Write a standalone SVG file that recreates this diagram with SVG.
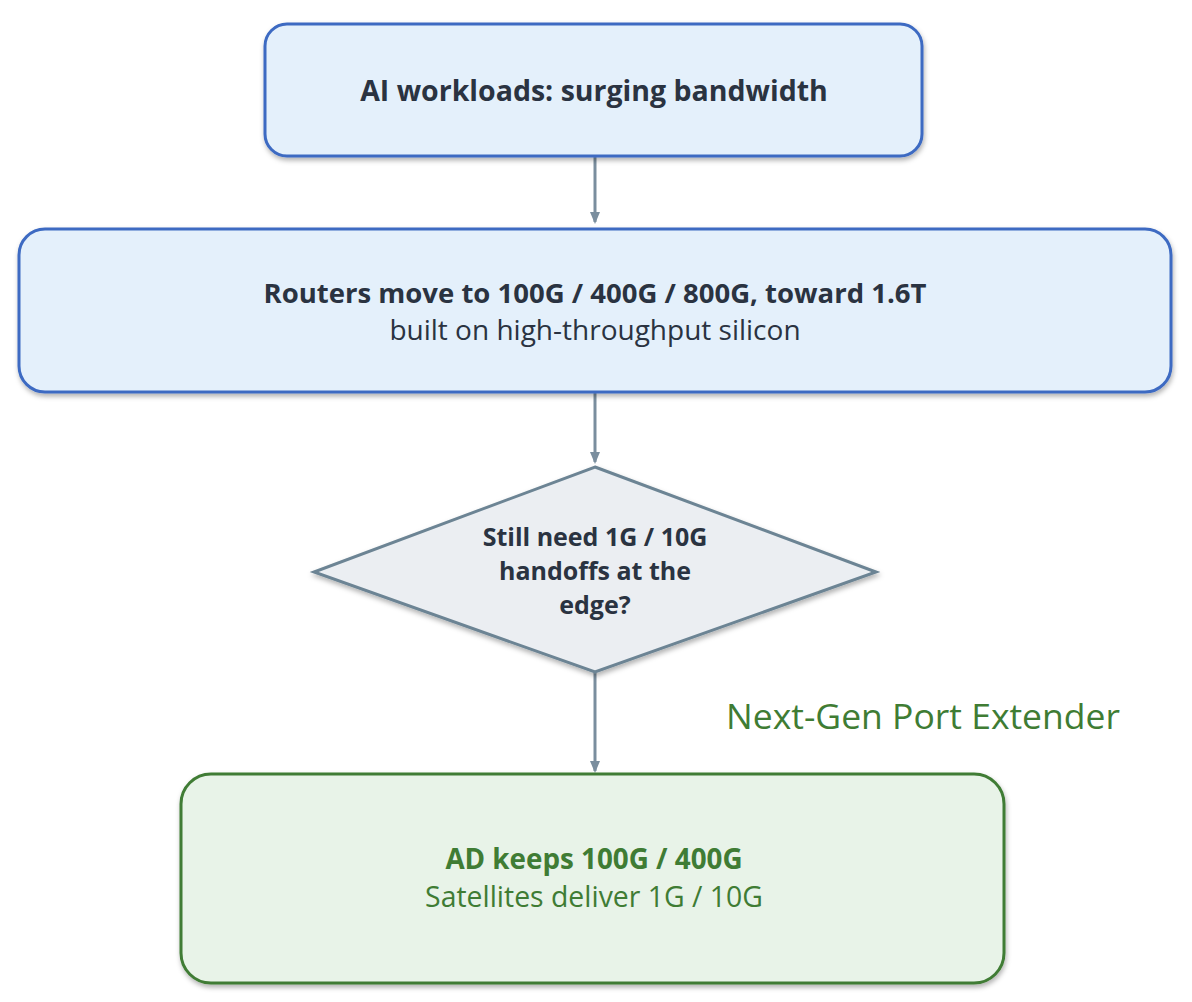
<svg xmlns="http://www.w3.org/2000/svg" width="1192" height="1002" viewBox="0 0 1192 1002">
<defs>
<filter id="sh" x="-5%" y="-10%" width="110%" height="125%">
<feDropShadow dx="1" dy="3" stdDeviation="2.5" flood-color="#000" flood-opacity="0.3"/>
</filter>
<marker id="ah" markerWidth="12" markerHeight="10" refX="10" refY="5" orient="auto" markerUnits="userSpaceOnUse">
<path d="M0,0 L12,5 L0,10 z" fill="#7a8e9e"/>
</marker>
</defs>
<style>
.blue{fill:#e4f0fb;stroke:#3c6ac2;stroke-width:3}
.dia{fill:#ebeef2;stroke:#6c8494;stroke-width:3}
.green{fill:#e8f3e8;stroke:#3f7c34;stroke-width:3}
.t{font-family:"Open Sans",Lato,"Liberation Sans",sans-serif;text-anchor:middle}
.b{font-weight:bold}
.dark{fill:#2a3341}
.gt{fill:#3f7c34}
.conn{stroke:#7a8e9e;stroke-width:3;fill:none}
</style>
<rect width="1192" height="1002" fill="#ffffff"/>
<g id="connectors">
<line class="conn" x1="595" y1="157" x2="595" y2="222" marker-end="url(#ah)"/>
<line class="conn" x1="595" y1="393" x2="595" y2="462" marker-end="url(#ah)"/>
<line class="conn" x1="595" y1="673" x2="595" y2="771" marker-end="url(#ah)"/>
</g>
<g id="n1">
<rect class="blue" x="265" y="24" width="657" height="132" rx="22" filter="url(#sh)"/>
<text class="t b dark" x="594" y="101" font-size="28.5">AI workloads: surging bandwidth</text>
</g>
<g id="n2">
<rect class="blue" x="19" y="229" width="1152" height="163" rx="26" filter="url(#sh)"/>
<text class="t b dark" x="595" y="303" font-size="27.5">Routers move to 100G / 400G / 800G, toward 1.6T</text>
<text class="t dark" x="595" y="340" font-size="28">built on high-throughput silicon</text>
</g>
<g id="n3">
<polygon class="dia" points="595,467 876,572 595,672 314,572" filter="url(#sh)"/>
<text class="t b dark" x="595" y="546" font-size="25">Still need 1G / 10G</text>
<text class="t b dark" x="595" y="580" font-size="25">handoffs at the</text>
<text class="t b dark" x="595" y="614" font-size="25">edge?</text>
</g>
<g id="label">
<text class="t gt" x="923" y="729" font-size="35.5">Next-Gen Port Extender</text>
</g>
<g id="n4">
<rect class="green" x="181" y="774" width="823" height="209" rx="30" filter="url(#sh)"/>
<text class="t b gt" x="594" y="869" font-size="27.8">AD keeps 100G / 400G</text>
<text class="t gt" x="594" y="907" font-size="28.4">Satellites deliver 1G / 10G</text>
</g>
</svg>
